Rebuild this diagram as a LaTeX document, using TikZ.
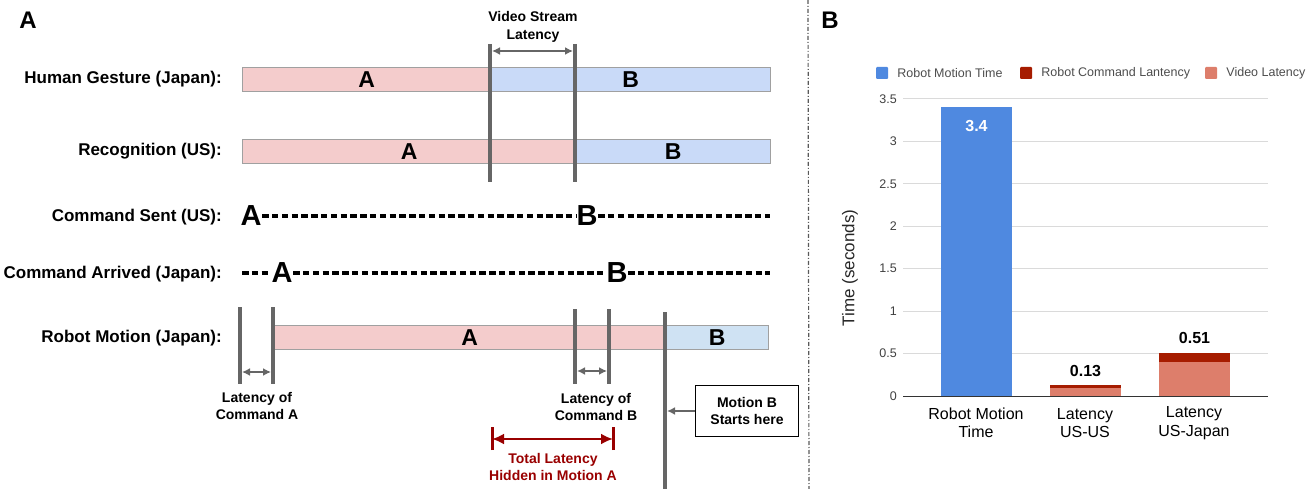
\documentclass[tikz,border=0pt]{standalone}
\usepackage{fontspec}
\setmainfont{Liberation Sans}
\usetikzlibrary{positioning,arrows.meta}

\definecolor{pinkbar}{HTML}{F4CCCC}
\definecolor{bluebar}{HTML}{C9DAF8}
\definecolor{motionblue}{HTML}{CFE2F3}
\definecolor{bargray}{HTML}{A0A0A0}
\definecolor{markgray}{HTML}{666666}
\definecolor{hiddenred}{HTML}{990000}
\definecolor{chartblue}{HTML}{4F89E0}
\definecolor{chartred}{HTML}{A61C00}
\definecolor{chartsalmon}{HTML}{DD7E6B}
\definecolor{gridgray}{HTML}{DADADA}
\definecolor{axisgray}{HTML}{333333}

\begin{document}
\begin{tikzpicture}[x=1pt,y=-1pt,
    rowlabel/.style={anchor=east,inner sep=0pt,font=\fontsize{17}{19}\selectfont\bfseries},
    segment/.style={draw=bargray,line width=1.4pt,anchor=north west,inner sep=0pt,
        minimum height=24pt,font=\fontsize{23}{25}\selectfont\bfseries},
    bigletter/.style={inner sep=0.5pt,font=\fontsize{29}{30}\selectfont\bfseries},
    cmddash/.style={line width=3.2pt,dash pattern=on 6.5pt off 3.3pt},
    tickline/.style={draw=markgray,line width=3.6pt},
    latarrow/.style={draw=markgray,line width=2pt,{Latex[length=8pt,width=8pt]}-{Latex[length=8pt,width=8pt]}},
    smalllabel/.style={align=center,inner sep=0pt,font=\fontsize{14}{17.5}\selectfont\bfseries},
    panellabel/.style={inner sep=0pt,font=\fontsize{24}{26}\selectfont\bfseries},
    legendkey/.style={fill=#1,minimum size=12pt,inner sep=0pt,rounded corners=1pt},
    legendtext/.style={inner sep=0pt,anchor=west,text=black!70,font=\fontsize{12.5}{14}\selectfont},
    ticklabel/.style={anchor=east,inner sep=0pt,text=black!75,font=\fontsize{12.5}{14}\selectfont},
    catlabel/.style={align=center,inner sep=0pt,font=\fontsize{16}{18.5}\selectfont},
    valuelabel/.style={inner sep=0pt,font=\fontsize{16}{18}\selectfont\bfseries}]
    \useasboundingbox (0,0) rectangle (1315,489);

    \node[panellabel] (panelA) at (28,20) {A};
    \node[panellabel] (panelB) at (830,20) {B};
    \draw[black!65,line width=1.2pt,dash pattern=on 4pt off 2pt on 1pt off 2pt] (808,0) -- (809,489);

    \node[rowlabel] (lblgesture) at (222,79) {Human Gesture (Japan):};
    \node[rowlabel] (lblrecog) at (222,151) {Recognition (US):};
    \node[rowlabel] (lblsent) at (222,217) {Command Sent (US):};
    \node[rowlabel] (lblarrived) at (222,274) {Command Arrived (Japan):};
    \node[rowlabel] (lblmotion) at (222,338) {Robot Motion (Japan):};

    \node[segment,fill=pinkbar,minimum width=248pt] (gestureA) at (242,67) {A};
    \node[segment,fill=bluebar,minimum width=280pt] (gestureB) at (490,67) {B};
    \node[segment,fill=pinkbar,minimum width=333pt] (recogA) at (242,139) {A};
    \node[segment,fill=bluebar,minimum width=195pt] (recogB) at (575,139) {B};
    \node[segment,fill=pinkbar,minimum width=392pt] (motionA) at (273,325) {A};
    \node[segment,fill=motionblue,minimum width=103pt] (motionB) at (665,325) {B};

    \node[bigletter] (sentA) at (251,216) {A};
    \node[bigletter] (sentB) at (587,216) {B};
    \coordinate (sentEnd) at (770,216);
    \draw[cmddash] (sentA) -- (sentB);
    \draw[cmddash] (sentB) -- (sentEnd);

    \coordinate (arrivedStart) at (242,273);
    \node[bigletter] (arrivedA) at (282,273) {A};
    \node[bigletter] (arrivedB) at (617,273) {B};
    \coordinate (arrivedEnd) at (770,273);
    \draw[cmddash] (arrivedStart) -- (arrivedA);
    \draw[cmddash] (arrivedA) -- (arrivedB);
    \draw[cmddash] (arrivedB) -- (arrivedEnd);

    \coordinate (videoL) at (490,44);
    \coordinate (videoR) at (575,44);
    \draw[tickline] (videoL) -- ++(0,138);
    \draw[tickline] (videoR) -- ++(0,138);
    \draw[latarrow] ([shift={(2,7)}]videoL) -- ([shift={(-2,7)}]videoR);
    \node[smalllabel] (lblvideo) at (533,27) {Video Stream\\Latency};

    \coordinate (cmdAL) at (240,307);
    \coordinate (cmdAR) at (273,307);
    \draw[tickline] (cmdAL) -- ++(0,77);
    \draw[tickline] (cmdAR) -- ++(0,77);
    \draw[latarrow] ([shift={(2,65)}]cmdAL) -- ([shift={(-2,65)}]cmdAR);
    \node[smalllabel] (lblcmdA) at (257,406) {Latency of\\Command A};

    \coordinate (cmdBL) at (575,309);
    \coordinate (cmdBR) at (609,309);
    \draw[tickline] (cmdBL) -- ++(0,75);
    \draw[tickline] (cmdBR) -- ++(0,75);
    \draw[latarrow] ([shift={(2,62)}]cmdBL) -- ([shift={(-2,62)}]cmdBR);
    \node[smalllabel] (lblcmdB) at (596,407) {Latency of\\Command B};

    \coordinate (startTop) at (665,312);
    \coordinate (startBottom) at (665,489);
    \draw[tickline] (startTop) -- (startBottom);
    \node[smalllabel,draw=black,line width=1.8pt,minimum width=103pt,minimum height=51pt] (startbox) at (747,411) {Motion B\\Starts here};
    \draw[draw=markgray,line width=2pt,-{Latex[length=8pt,width=8pt]}] (startbox.west) -- ([xshift=2]startbox.west -| startTop);

    \coordinate (hiddenL) at (492,439);
    \coordinate (hiddenR) at (613,439);
    \draw[hiddenred,line width=3pt] ([yshift=-11]hiddenL) -- ([yshift=12]hiddenL);
    \draw[hiddenred,line width=3pt] ([yshift=-11]hiddenR) -- ([yshift=12]hiddenR);
    \draw[hiddenred,line width=2.8pt,{Latex[length=12pt,width=11pt]}-{Latex[length=12pt,width=11pt]}] (hiddenL) -- (hiddenR);
    \node[smalllabel,text=hiddenred] (lblhidden) at (553,467) {Total Latency\\Hidden in Motion A};

    \node[legendkey=chartblue] (keymotion) at (882,73) {};
    \node[legendtext,right=9pt of keymotion] (txtmotion) {Robot Motion Time};
    \node[legendkey=chartred] (keycommand) at (1026,73) {};
    \node[legendtext,right=9pt of keycommand] (txtcommand) {Robot Command Lantency};
    \node[legendkey=chartsalmon] (keyvideo) at (1211,73) {};
    \node[legendtext,right=9pt of keyvideo] (txtvideo) {Video Latency};

    \node[rotate=90,inner sep=0pt,text=black!85,font=\fontsize{17}{19}\selectfont] (ytitle) at (850,268) {Time (seconds)};

    \begin{scope}[shift={(0,396)},y={(0pt,84.9pt)}]
        \foreach \v in {0.5,1,1.5,2,2.5,3,3.5}
            \draw[gridgray,line width=1pt] (903,\v) -- (1268,\v);
        \foreach \v in {0,0.5,1,1.5,2,2.5,3,3.5}
            \node[ticklabel] at (897,\v) {\v};
        \fill[chartblue] (941,0) rectangle (1012,3.4);
        \fill[chartsalmon] (1050,0) rectangle (1121,0.1);
        \fill[chartred] (1050,0.1) rectangle (1121,0.13);
        \fill[chartsalmon] (1159,0) rectangle (1230,0.4);
        \fill[chartred] (1159,0.4) rectangle (1230,0.51);
        \draw[axisgray,line width=1pt] (903,0) -- (1268,0);
        \node[valuelabel,text=white,anchor=north] (valmotion) at (976.5,3.25) {3.4};
        \node[valuelabel,anchor=south] (valus) at (1085.5,0.23) {0.13};
        \node[valuelabel,anchor=south] (valjapan) at (1194.5,0.61) {0.51};
    \end{scope}

    \node[catlabel] (catmotion) at (976,423) {Robot Motion\\Time};
    \node[catlabel] (catus) at (1085,423) {Latency\\US-US};
    \node[catlabel] (catjapan) at (1194,423) {Latency\\US-Japan};
\end{tikzpicture}
\end{document}
